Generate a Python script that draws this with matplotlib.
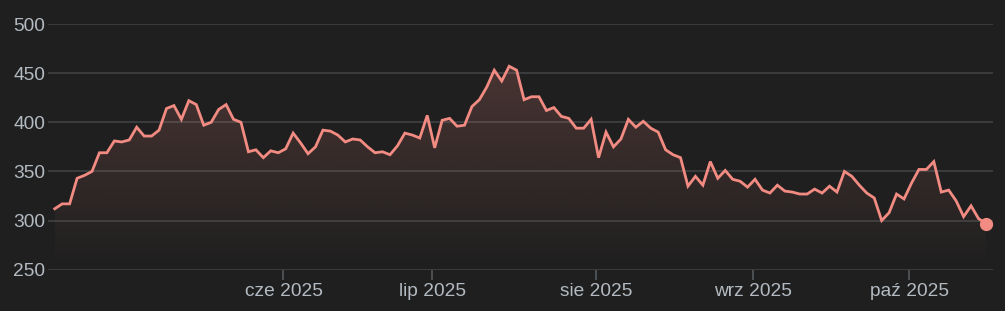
import matplotlib
matplotlib.use('Agg')
import matplotlib.pyplot as plt
import numpy as np
import pandas as pd

#================================================
# Data (US trading days, mid-April to mid-October 2025)

holidays = ['2025-04-18', '2025-05-26', '2025-06-19', '2025-07-04', '2025-09-01']
dates = pd.bdate_range('2025-04-16', '2025-10-15', freq='C', holidays=holidays)

prices = [
    312, 317, 317, 343, 346, 350, 369, 369, 381, 380,
    382, 395, 386, 386, 392, 414, 417, 403, 422, 418,
    397, 400, 413, 418, 403, 400, 370, 372, 364, 371,
    369, 373, 389, 379, 368, 375, 392, 391, 387, 380,
    383, 382, 375, 369, 370, 367, 376, 389, 387, 384,
    407, 374, 402, 404, 396, 397, 416, 423, 436, 453,
    442, 457, 453, 423, 426, 426, 412, 415, 406, 404,
    394, 394, 403, 364, 390, 375, 383, 403, 395, 401,
    394, 390, 372, 367, 364, 335, 345, 336, 360, 343,
    351, 342, 340, 334, 342, 331, 328, 336, 330, 329,
    327, 327, 332, 328, 335, 329, 350, 345, 336, 328,
    323, 300, 308, 327, 322, 338, 352, 352, 360, 329,
    331, 320, 304, 315, 302, 297,
]

month_names = ['sty', 'lut', 'mar', 'kwi', 'maj', 'cze',
               'lip', 'sie', 'wrz', 'paź', 'lis', 'gru']
first_tick_month = 6  # labels start at June
y_ticks = [250, 300, 350, 400, 450, 500]

#================================================
# Style

bg = '#1f1f1f'
line_color = '#f28b82'
text_color = '#b3bac1'
grid_color = '#3f4144'
tick_color = '#55595d'

plt.rcParams['font.family'] = ['Liberation Sans', 'DejaVu Sans']

x = np.arange(len(dates))
y = np.array(prices, dtype=float)

# month ticks at first trading day of each month
first_idx = [i for i in range(1, len(dates))
             if dates[i].month != dates[i - 1].month and dates[i].month >= first_tick_month]
tick_pos = [i - 0.3 for i in first_idx]
tick_lab = [month_names[dates[i].month - 1] + ' ' + str(dates[i].year) for i in first_idx]

#================================================
# Plot

fig = plt.figure(figsize=(10.05, 3.11), dpi=100, facecolor=bg)
ax = fig.add_axes([0.0478, 0.1328, 0.9403, 0.79], facecolor=bg)

ax.set_xlim(-0.9, len(x) - 0.05)
ax.set_ylim(250, 500)

for v in y_ticks:
    ax.axhline(v, color=grid_color, lw=1.2, zorder=0)

# gradient fill under the line
poly = ax.fill_between(x, y, 250, color='none', lw=0)
grad = np.linspace(0, 1, 256).reshape(-1, 1)
rgba = np.zeros((256, 1, 4))
rgba[..., :3] = matplotlib.colors.to_rgb(line_color)
rgba[..., 3] = 0.2 * grad
im = ax.imshow(rgba, origin='lower', aspect='auto',
               extent=[x[0], x[-1], 250, y.max()], zorder=1)
im.set_clip_path(poly.get_paths()[0], ax.transData)

ax.plot(x, y, color=line_color, lw=2.0, zorder=3, solid_joinstyle='miter')
ax.plot(x[-1], y[-1], 'o', color=line_color, ms=8.5, zorder=4)

ax.set_yticks(y_ticks)
ax.set_xticks(tick_pos)
ax.set_xticklabels(tick_lab)
ax.tick_params(axis='x', length=7, width=1.2, color=tick_color, pad=2.5,
               labelsize=13.8, labelcolor=text_color)
ax.tick_params(axis='y', length=0, pad=2, labelsize=13.8, labelcolor=text_color)

for s in ax.spines.values():
    s.set_visible(False)

fig.savefig('out.png', dpi=100, facecolor=bg)
